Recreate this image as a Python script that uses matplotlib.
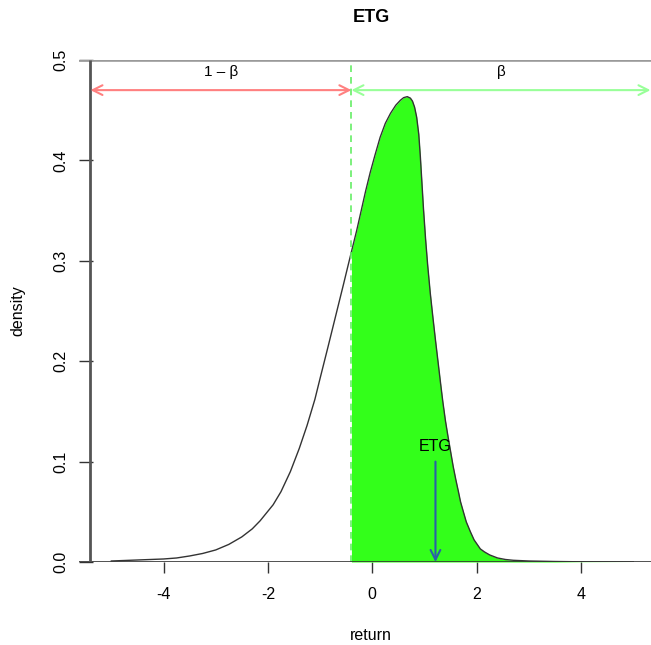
import matplotlib
matplotlib.use("Agg")
import matplotlib.pyplot as plt
import numpy as np

plt.rcParams['font.family'] = ['Liberation Sans', 'DejaVu Sans']

# density curve
ret = [-5.0, -4.75, -4.5, -4.25, -4.0, -3.75, -3.5, -3.25, -3.0, -2.75, -2.5, -2.3,
       -2.15, -1.9, -1.75, -1.57, -1.4, -1.25, -1.1, -1.0, -0.85, -0.75, -0.65,
       -0.55, -0.48, -0.4, -0.3, -0.23, -0.13, -0.04, 0.05, 0.15, 0.25, 0.35, 0.45,
       0.54, 0.6, 0.67, 0.73, 0.77, 0.81, 0.85, 0.89, 0.92, 0.95, 0.98, 1.02, 1.06,
       1.11, 1.16, 1.21, 1.26, 1.31, 1.35, 1.40, 1.45, 1.50, 1.55, 1.60, 1.65, 1.69,
       1.75, 1.80, 1.88, 1.95, 2.07, 2.15, 2.25, 2.4, 2.55, 2.7, 3.0, 3.5, 4.0, 4.5, 5.0]
dens = [0.001, 0.0015, 0.002, 0.0025, 0.003, 0.004, 0.006, 0.0085, 0.012, 0.0175, 0.025,
        0.033, 0.041, 0.057, 0.070, 0.090, 0.113, 0.136, 0.162, 0.183, 0.214, 0.235,
        0.256, 0.277, 0.292, 0.309, 0.330, 0.346, 0.369, 0.388, 0.405, 0.423, 0.437,
        0.447, 0.455, 0.460, 0.4625, 0.4635, 0.462, 0.459, 0.453, 0.443, 0.426, 0.404,
        0.378, 0.352, 0.322, 0.296, 0.268, 0.244, 0.221, 0.199, 0.177, 0.160, 0.141,
        0.125, 0.110, 0.095, 0.082, 0.070, 0.060, 0.049, 0.040, 0.030, 0.022, 0.013,
        0.010, 0.007, 0.004, 0.0025, 0.0017, 0.001, 0.0005, 0.0002, 0.0001, 0.0]
beta_cut = -0.4
etg_value = 1.21
xticks = [-4, -2, 0, 2, 4]
yticks = [0.0, 0.1, 0.2, 0.3, 0.4, 0.5]

W, H = 651, 645
fig = plt.figure(figsize=(W / 100, H / 100), dpi=100)
ax = fig.add_axes([79 / W, (H - 562) / H, (W - 79) / W, (562 - 60) / H])
ax.set_xlim(-5.619, 5.339)
ax.set_ylim(0, 0.5)

r = np.array(ret)
d = np.array(dens)
mask = r >= beta_cut
ax.fill_between(r[mask], 0, d[mask], color='#33ff1a', lw=0, zorder=2)
ax.plot(r, d, color='#333333', lw=1.0, zorder=3)

# dashed cut line
ax.plot([beta_cut, beta_cut], [0, 0.5], color='#66ee66', lw=1.2,
        dashes=(4, 3), zorder=4)

# frame lines
ax.axhline(0.5, color='#9a9a9a', lw=2.6, zorder=5)
ax.axhline(0.0, color='#333333', lw=1.2, zorder=5)
ax.plot([-5.40, -5.40], [0, 0.5], color='#555555', lw=2.0, zorder=5, solid_capstyle='butt')
for s in ax.spines.values():
    s.set_visible(False)

# arrows
ax.annotate('', xy=(-5.40, 0.47), xytext=(beta_cut, 0.47),
            arrowprops=dict(arrowstyle='<->,head_length=0.7,head_width=0.35',
                            color='#ff8080', lw=1.5, shrinkA=0, shrinkB=0), zorder=6)
ax.annotate('', xy=(beta_cut, 0.47), xytext=(5.33, 0.47),
            arrowprops=dict(arrowstyle='<->,head_length=0.7,head_width=0.35',
                            color='#99ff99', lw=1.5, shrinkA=0, shrinkB=0), zorder=6)
ax.text((-5.40 + beta_cut) / 2, 0.488, '1 \u2013 \u03b2', ha='center', va='center', fontsize=11)
ax.text((beta_cut + 5.33) / 2, 0.488, '\u03b2', ha='center', va='center', fontsize=11)

ax.annotate('', xy=(etg_value, 0.0), xytext=(etg_value, 0.1),
            arrowprops=dict(arrowstyle='->,head_length=0.7,head_width=0.35',
                            color='#2a5fa8', lw=1.5, shrinkA=0, shrinkB=0), zorder=6)
ax.text(etg_value, 0.115, 'ETG', ha='center', va='center', fontsize=11.5)

ax.set_xticks(xticks)
ax.set_xticklabels([f'{t:g}' for t in xticks])
ax.set_yticks(yticks)
ax.set_yticklabels([f'{t:.1f}' for t in yticks], rotation=90, va='center')
ax.tick_params(axis='x', direction='out', length=8, width=1, pad=10, labelsize=11.5, color='#333333')
ax.tick_params(axis='y', direction='in', length=10, width=1, pad=8, labelsize=11.5, color='#333333')

fig.text(371 / W, 1 - 18 / H, 'ETG', ha='center', va='center', fontsize=13, fontweight='bold')
fig.text(371 / W, 1 - 636 / H, 'return', ha='center', va='center', fontsize=11.5)
fig.text(18 / W, 1 - 311 / H, 'density', ha='center', va='center', fontsize=11.5, rotation=90)

fig.savefig('out.png', dpi=100)
